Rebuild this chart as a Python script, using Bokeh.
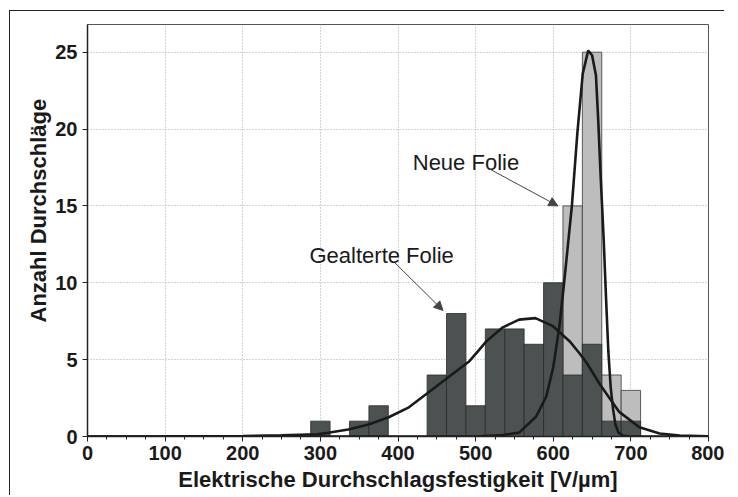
from bokeh.plotting import figure
from bokeh.models import (Range1d, SingleIntervalTicker, Label, Arrow, NormalHead, Title)
from bokeh.embed import file_html
from bokeh.resources import INLINE

# ---------------- data ----------------
bin_width = 25
aged_centers = [300, 350, 375, 450, 475, 500, 525, 550, 575, 600, 625, 650, 675, 700]
aged_counts = [1, 1, 2, 4, 8, 2, 7, 7, 6, 10, 4, 6, 1, 1]
new_centers = [625, 650, 675, 700]
new_counts = [15, 25, 4, 3]

aged_curve_x = [0, 100, 200, 250, 296, 310, 336, 362, 388, 414, 440, 466, 492, 504, 514,
                535, 556, 577, 599, 621, 634, 643, 660, 685, 711, 737, 763, 800]
aged_curve_y = [0, 0.005, 0.03, 0.08, 0.15, 0.24, 0.45, 0.78, 1.25, 1.9, 2.9, 3.9, 4.9, 5.6, 6.2,
                7.1, 7.6, 7.7, 7.2, 6.2, 5.4, 4.8, 3.4, 1.6, 0.6, 0.2, 0.06, 0.02]
new_curve_x = [0, 500, 535, 556, 578, 591, 600, 608, 614, 619, 624, 631, 638, 645, 650,
               655, 658, 661, 665, 668, 671, 674, 677, 680, 684, 690, 700, 800]
new_curve_y = [0, 0, 0.1, 0.25, 1.3, 2.6, 4.5, 7.2, 10, 12.5, 15, 19.7, 23.6, 25.1, 24.8,
               23.5, 20.5, 17, 12.8, 9, 5.5, 3.2, 1.8, 0.8, 0.25, 0.05, 0, 0]

x_label = "Elektrische Durchschlagsfestigkeit [V/µm]"
y_label = "Anzahl Durchschläge"
label_new = "Neue Folie"
label_aged = "Gealterte Folie"

FONT = "Liberation Sans"
DARK = "#4c5251"
LIGHT = "#bdbdbd"
TXT = "#1a1a1a"

p = figure(width=715, height=485, output_backend="svg", toolbar_location=None,
           x_range=Range1d(0, 800), y_range=Range1d(0, 26.8),
           min_border_left=77, min_border_right=17, min_border_top=13, min_border_bottom=60)
p.styles = {"border-top": "1.5px solid #222", "border-left": "1.5px solid #222",
            "margin-left": "9px", "margin-top": "10px"}
p.background_fill_color = "white"
p.border_fill_color = "white"
p.outline_line_color = "#555555"
p.outline_line_width = 1

# axes
p.xaxis.ticker = SingleIntervalTicker(interval=100, num_minor_ticks=4)
p.yaxis.ticker = SingleIntervalTicker(interval=5, num_minor_ticks=0)
for ax in (p.xaxis[0], p.yaxis[0]):
    ax.major_label_text_font = FONT
    ax.major_label_text_font_style = "bold"
    ax.major_label_text_font_size = "20px"
    ax.major_label_text_color = TXT
    ax.axis_line_color = "#222222"
    ax.axis_line_width = 1.5
    ax.major_tick_line_color = "#222222"
    ax.minor_tick_line_color = "#222222"
    ax.major_tick_in = 0
    ax.minor_tick_in = 0
p.xaxis.major_tick_out = 5
p.xaxis.minor_tick_out = 3
p.xaxis.major_label_standoff = 4
p.yaxis.major_tick_out = 5
p.yaxis.major_label_standoff = 5
p.xaxis.axis_label = x_label
p.xaxis.axis_label_text_font = FONT
p.xaxis.axis_label_text_font_style = "bold"
p.xaxis.axis_label_text_font_size = "22px"
p.xaxis.axis_label_text_color = TXT
p.xaxis.axis_label_standoff = 4

# y axis title, placed a little above centre as in the original
p.add_layout(Title(text=y_label, align="left", offset=114, text_font=FONT,
                   text_font_style="bold", text_font_size="22px", text_color=TXT,
                   standoff=4), "left")

# grid
p.grid.grid_line_color = "#a8a8a8"
p.grid.grid_line_dash = "1 2"
p.grid.grid_line_width = 1

# bars: new film (light) behind aged film (dark)
p.vbar(x=new_centers, top=new_counts, width=bin_width, bottom=0,
       fill_color=LIGHT, line_color="#3a3a3a", line_width=0.8)
p.vbar(x=aged_centers, top=aged_counts, width=bin_width, bottom=0,
       fill_color=DARK, line_color="#2a2a2a", line_width=0.8)

# fitted curves
p.line(aged_curve_x, aged_curve_y, line_color=TXT, line_width=2.6)
p.line(new_curve_x, new_curve_y, line_color=TXT, line_width=2.6)

# annotations
p.add_layout(Label(x=419, y=17.8, text=label_new, text_font=FONT,
                   text_font_size="22px", text_color=TXT, text_baseline="alphabetic"))
p.add_layout(Label(x=286, y=11.75, text=label_aged, text_font=FONT,
                   text_font_size="22px", text_color=TXT, text_baseline="alphabetic"))
p.add_layout(Arrow(x_start=518, y_start=17.4, x_end=606, y_end=15.0,
                   line_color="#444444", line_width=1,
                   end=NormalHead(size=9, fill_color="#444444", line_color="#444444")))
p.add_layout(Arrow(x_start=396, y_start=11.3, x_end=458, y_end=8.2,
                   line_color="#444444", line_width=1,
                   end=NormalHead(size=9, fill_color="#444444", line_color="#444444")))

open("out.html", "w").write(file_html(p, INLINE))
